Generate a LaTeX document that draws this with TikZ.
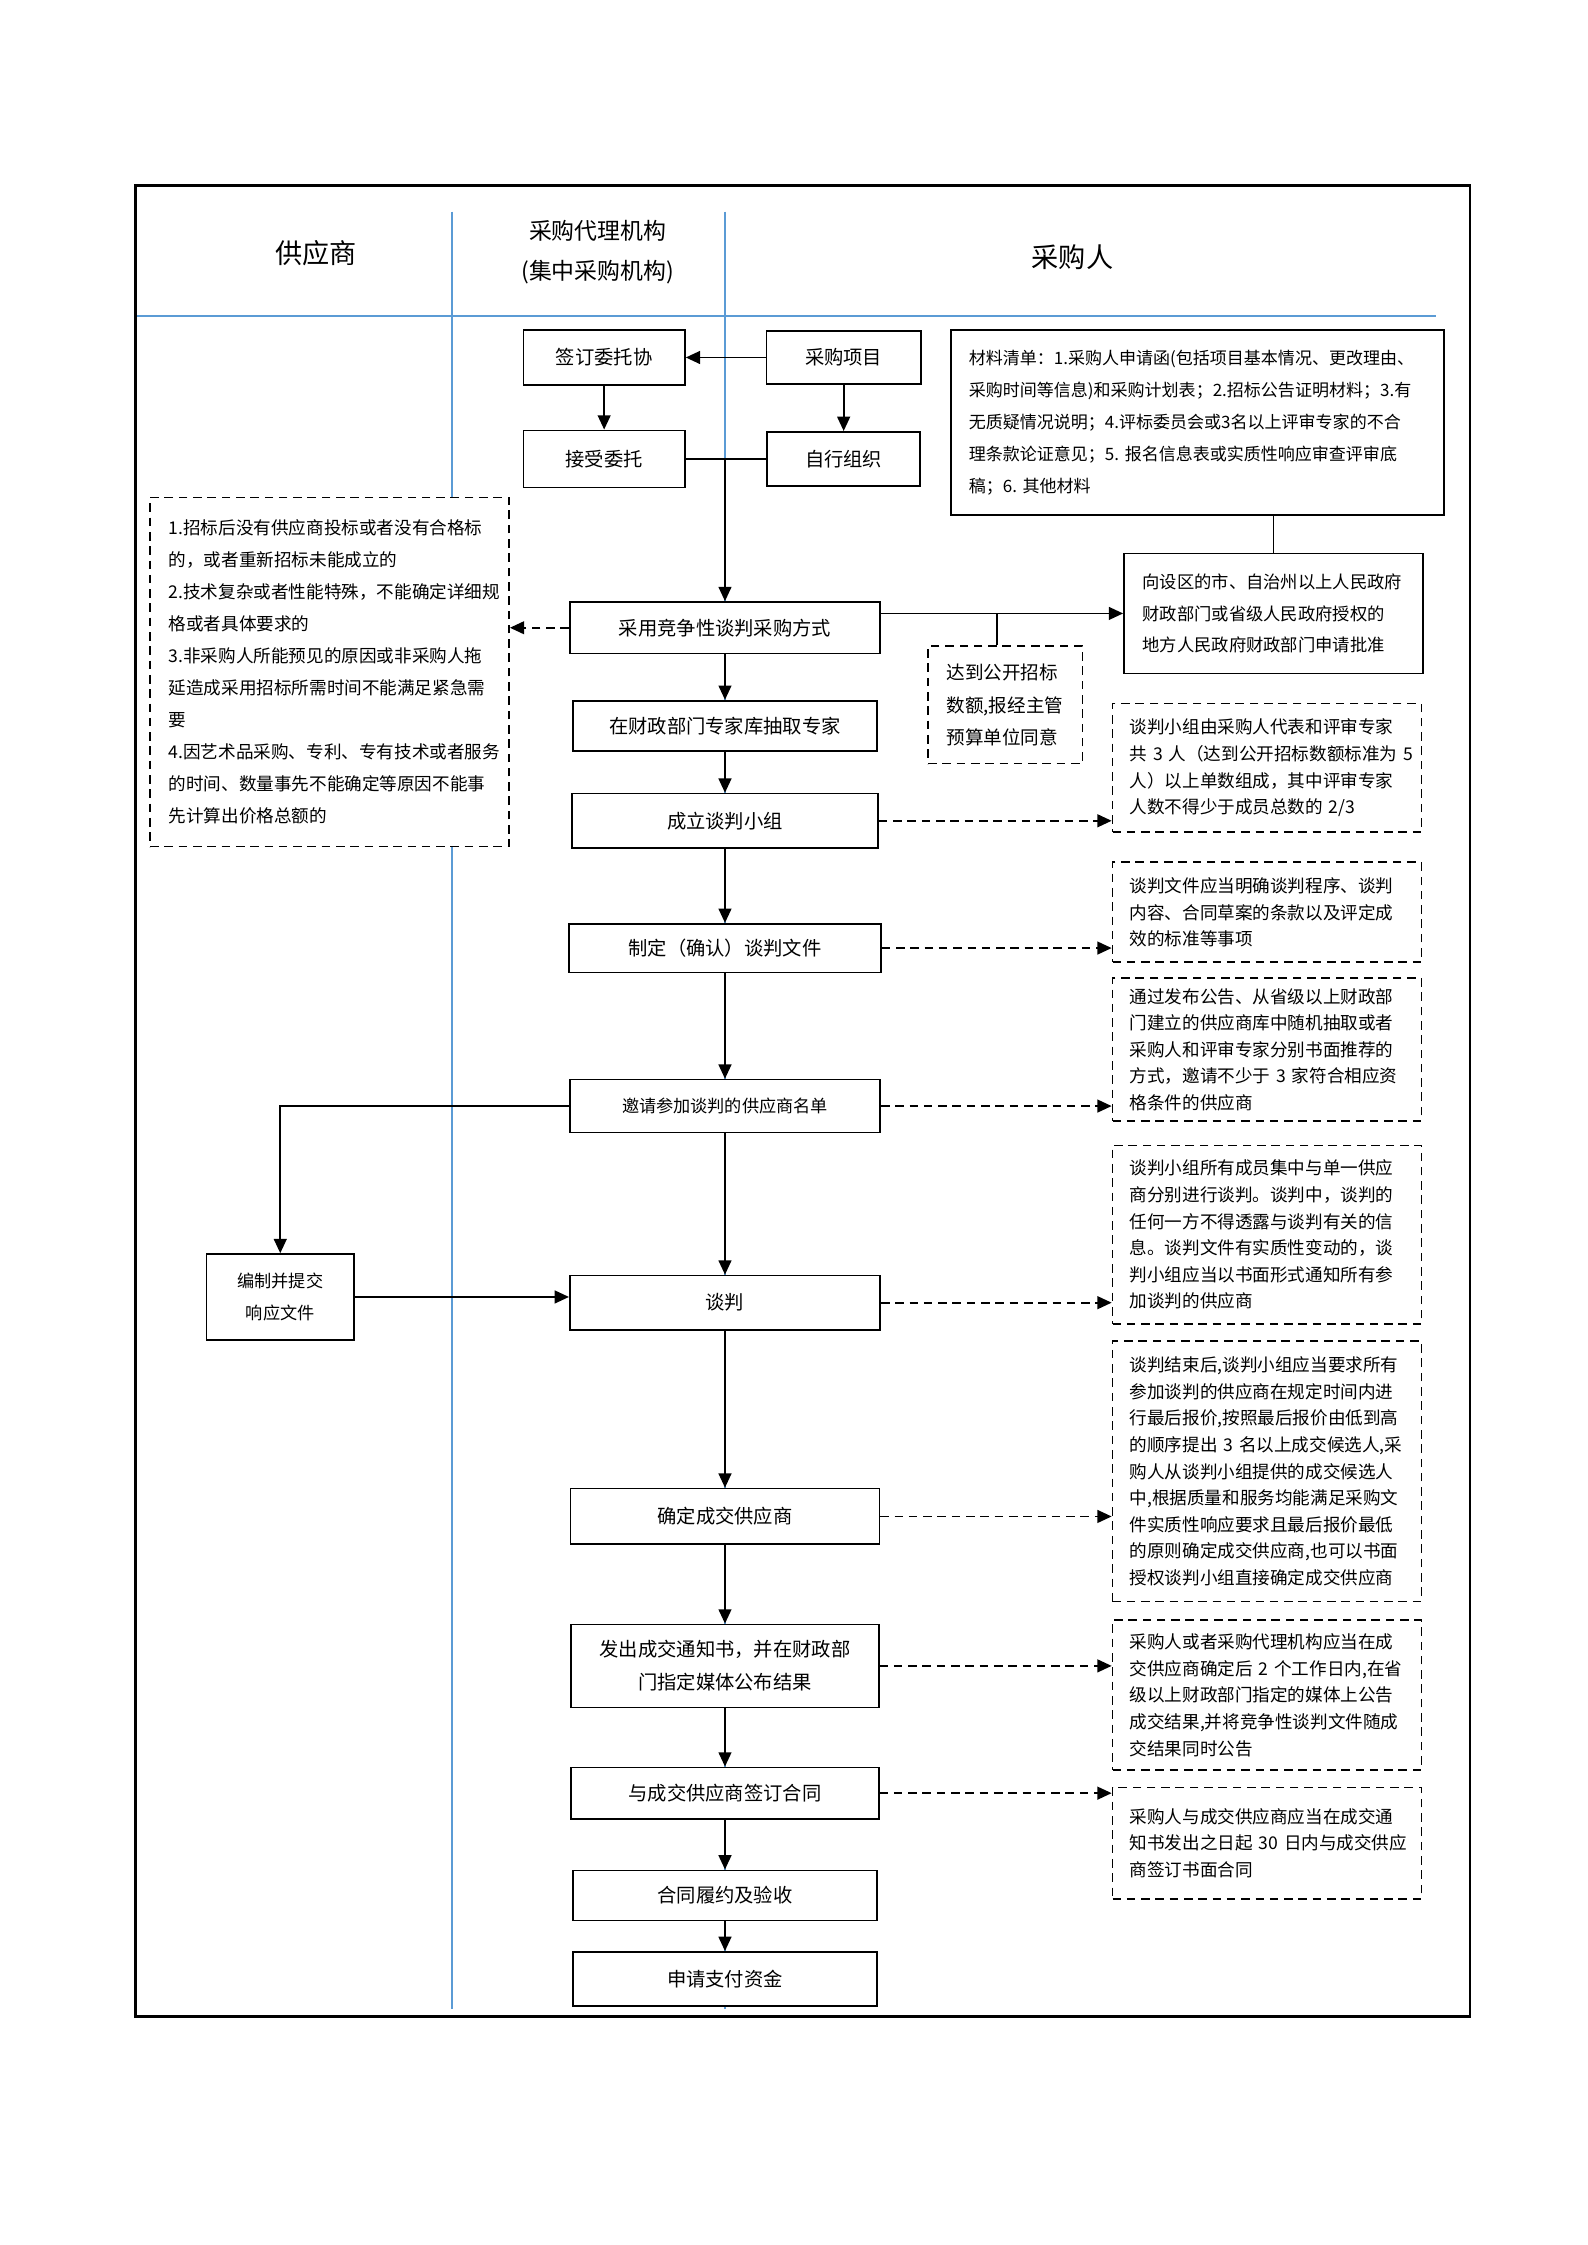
\documentclass[tikz,border=0pt]{standalone}
\usepackage{fontspec}
\setmainfont{Noto Sans CJK SC}
\usetikzlibrary{arrows.meta}
\definecolor{lanecol}{RGB}{91,155,213}

\begin{document}
\begin{tikzpicture}[x=1pt,y=-1pt,
        box/.style={draw, line width=1.2pt, fill=white, inner sep=2pt, align=center, font=\fontsize{13.5}{23}\selectfont},
        note/.style={draw, dash pattern=on 6pt off 4pt, line width=1.2pt, fill=white, minimum width=216pt, text width=192pt, align=left, inner sep=0pt, font=\fontsize{12.3}{18.6}\selectfont},
        arr/.style={-{Triangle[length=10pt,width=9pt]}, line width=1.2pt},
        darr/.style={arr, dash pattern=on 6pt off 4pt},
        lane/.style={draw=lanecol, line width=1pt}]
        \useasboundingbox (0,0) rectangle (1110,1570);

        % lanes and frame
        \draw[lane] (316,148) -- (316,1405);
        \draw[lane] (507,148) -- (507,1405);
        \draw[lane, line width=2pt] (95,221) -- (1004,221);
        \draw[line width=2pt] (95,130) rectangle (1028,1410);

        \node[font=\fontsize{19}{22}\selectfont] (hgy) at (221,177) {供应商};
        \node[font=\fontsize{16}{28}\selectfont, align=center] (hdl) at (418,176) {采购代理机构\\(集中采购机构)};
        \node[font=\fontsize{19}{22}\selectfont] (hcg) at (750,180) {采购人};

        % top boxes
        \node[box, minimum width=113pt, minimum height=38pt] (qd) at (422.5,250) {签订委托协};
        \node[box, minimum width=108pt, minimum height=37pt] (cg) at (590,250) {采购项目};
        \node[box, minimum width=113pt, minimum height=40pt] (js) at (422.5,321) {接受委托};
        \node[box, minimum width=107pt, minimum height=38pt] (zx) at (590,321) {自行组织};

        \node[draw, line width=1.2pt, fill=white, minimum width=345pt, minimum height=129pt, text width=320pt, align=left, inner sep=0pt,
            font=\fontsize{11.9}{22.5}\selectfont] (cl) at (837.5,295.5)
            {材料清单：1.采购人申请函(包括项目基本情况、更改理由、\\
            采购时间等信息)和采购计划表；2.招标公告证明材料；3.有\\
            无质疑情况说明；4.评标委员会或3名以上评审专家的不合\\
            理条款论证意见；5.~报名信息表或实质性响应审查评审底\\
            稿；6.~其他材料};
        \node[draw, line width=1.2pt, fill=white, minimum width=209pt, minimum height=84pt, text width=183pt, align=left, inner sep=0pt,
            font=\fontsize{12.1}{22}\selectfont] (xs) at (890.5,429)
            {向设区的市、自治州以上人民政府\\财政部门或省级人民政府授权的\\地方人民政府财政部门申请批准};
        \node[note, minimum width=108pt, minimum height=82pt, text width=82pt, font=\fontsize{13}{22.5}\selectfont] (dd) at (703,493)
            {达到公开招标\\数额,报经主管\\预算单位同意};
        \node[note, minimum width=251pt, minimum height=244pt, text width=225pt, font=\fontsize{12.3}{22.4}\selectfont] (tj) at (230.5,470)
            {1.招标后没有供应商投标或者没有合格标\\
            的，或者重新招标未能成立的\\
            2.技术复杂或者性能特殊，不能确定详细规\\
            格或者具体要求的\\
            3.非采购人所能预见的原因或非采购人拖\\
            延造成采用招标所需时间不能满足紧急需\\
            要\\
            4.因艺术品采购、专利、专有技术或者服务\\
            的时间、数量事先不能确定等原因不能事\\
            先计算出价格总额的};

        % main column
        \node[box, minimum width=217pt, minimum height=36pt] (cy) at (507,439) {采用竞争性谈判采购方式};
        \node[box, minimum width=213pt, minimum height=35pt] (zj) at (507,507.5) {在财政部门专家库抽取专家};
        \node[box, minimum width=214pt, minimum height=38pt] (xz) at (507,574) {成立谈判小组};
        \node[box, minimum width=218pt, minimum height=34pt] (wj) at (507,663) {制定（确认）谈判文件};
        \node[box, minimum width=217pt, minimum height=37pt, font=\fontsize{12}{22}\selectfont] (yq) at (507,773.5) {邀请参加谈判的供应商名单};
        \node[box, minimum width=217pt, minimum height=38pt] (tp) at (507,911) {谈判};
        \node[box, minimum width=216pt, minimum height=39pt] (qdcj) at (507,1060.5) {确定成交供应商};
        \node[box, minimum width=215pt, minimum height=58pt] (fc) at (507,1165) {发出成交通知书，并在财政部\\门指定媒体公布结果};
        \node[box, minimum width=215pt, minimum height=36pt] (qy) at (507,1254) {与成交供应商签订合同};
        \node[box, minimum width=213pt, minimum height=35pt] (ly) at (507,1325.5) {合同履约及验收};
        \node[box, minimum width=213pt, minimum height=38pt] (zf) at (507,1384) {申请支付资金};

        \node[box, minimum width=103pt, minimum height=60pt, font=\fontsize{12}{22}\selectfont] (bz) at (196,907) {编制并提交\\响应文件};

        % notes on the right
        \node[note, minimum height=90pt] (r1) at (886,537)
            {谈判小组由采购人代表和评审专家\\共~3~人（达到公开招标数额标准为~5\\人）以上单数组成，其中评审专家\\人数不得少于成员总数的~2/3};
        \node[note, minimum height=70pt] (r2) at (886,638)
            {谈判文件应当明确谈判程序、谈判\\内容、合同草案的条款以及评定成\\效的标准等事项};
        \node[note, minimum height=100pt] (r3) at (886,734)
            {通过发布公告、从省级以上财政部\\门建立的供应商库中随机抽取或者\\采购人和评审专家分别书面推荐的\\方式，邀请不少于~3~家符合相应资\\格条件的供应商};
        \node[note, minimum height=125pt] (r4) at (886,863.5)
            {谈判小组所有成员集中与单一供应\\商分别进行谈判。谈判中，谈判的\\任何一方不得透露与谈判有关的信\\息。谈判文件有实质性变动的，谈\\判小组应当以书面形式通知所有参\\加谈判的供应商};
        \node[note, minimum height=182pt] (r5) at (886,1029)
            {谈判结束后,谈判小组应当要求所有\\参加谈判的供应商在规定时间内进\\行最后报价,按照最后报价由低到高\\的顺序提出~3~名以上成交候选人,采\\购人从谈判小组提供的成交候选人\\中,根据质量和服务均能满足采购文\\件实质性响应要求且最后报价最低\\的原则确定成交供应商,也可以书面\\授权谈判小组直接确定成交供应商};
        \node[note, minimum height=105pt] (r6) at (886,1185.5)
            {采购人或者采购代理机构应当在成\\交供应商确定后~2~个工作日内,在省\\级以上财政部门指定的媒体上公告\\成交结果,并将竞争性谈判文件随成\\交结果同时公告};
        \node[note, minimum height=78pt] (r7) at (886,1289)
            {采购人与成交供应商应当在成交通\\知书发出之日起~30~日内与成交供应\\商签订书面合同};

        % connectors
        \draw[arr] (cg) -- (qd);
        \draw[arr] (qd) -- (js);
        \draw[arr] (cg) -- (zx);
        \draw[line width=1.2pt] (js) -- (zx);
        \coordinate (jn) at (507,321);
        \draw[arr] (jn) -- (cy);
        \draw[darr] (cy.west) -- (cy.west -| tj.east);
        \draw[arr] (cy.east |- xs.west) -- (xs.west);
        \coordinate (br) at (697,429);
        \draw[line width=1.2pt] (br) -- (br |- dd.north);
        \draw[line width=1.2pt] (cl.south -| xs.north) -- (xs.north);

        \foreach \a/\b in {cy/zj, zj/xz, xz/wj, wj/yq, yq/tp, tp/qdcj, qdcj/fc, fc/qy, qy/ly, ly/zf}
        \draw[arr] (\a) -- (\b);

        \foreach \a/\b in {xz/r1, wj/r2, yq/r3, tp/r4, qdcj/r5, fc/r6, qy/r7}
        \draw[darr] (\a.east) -- (\a.east -| \b.west);

        \draw[arr] (yq.west) -| (bz.north);
        \draw[arr] (bz.east) -- (bz.east -| tp.west);
    \end{tikzpicture}
\end{document}
